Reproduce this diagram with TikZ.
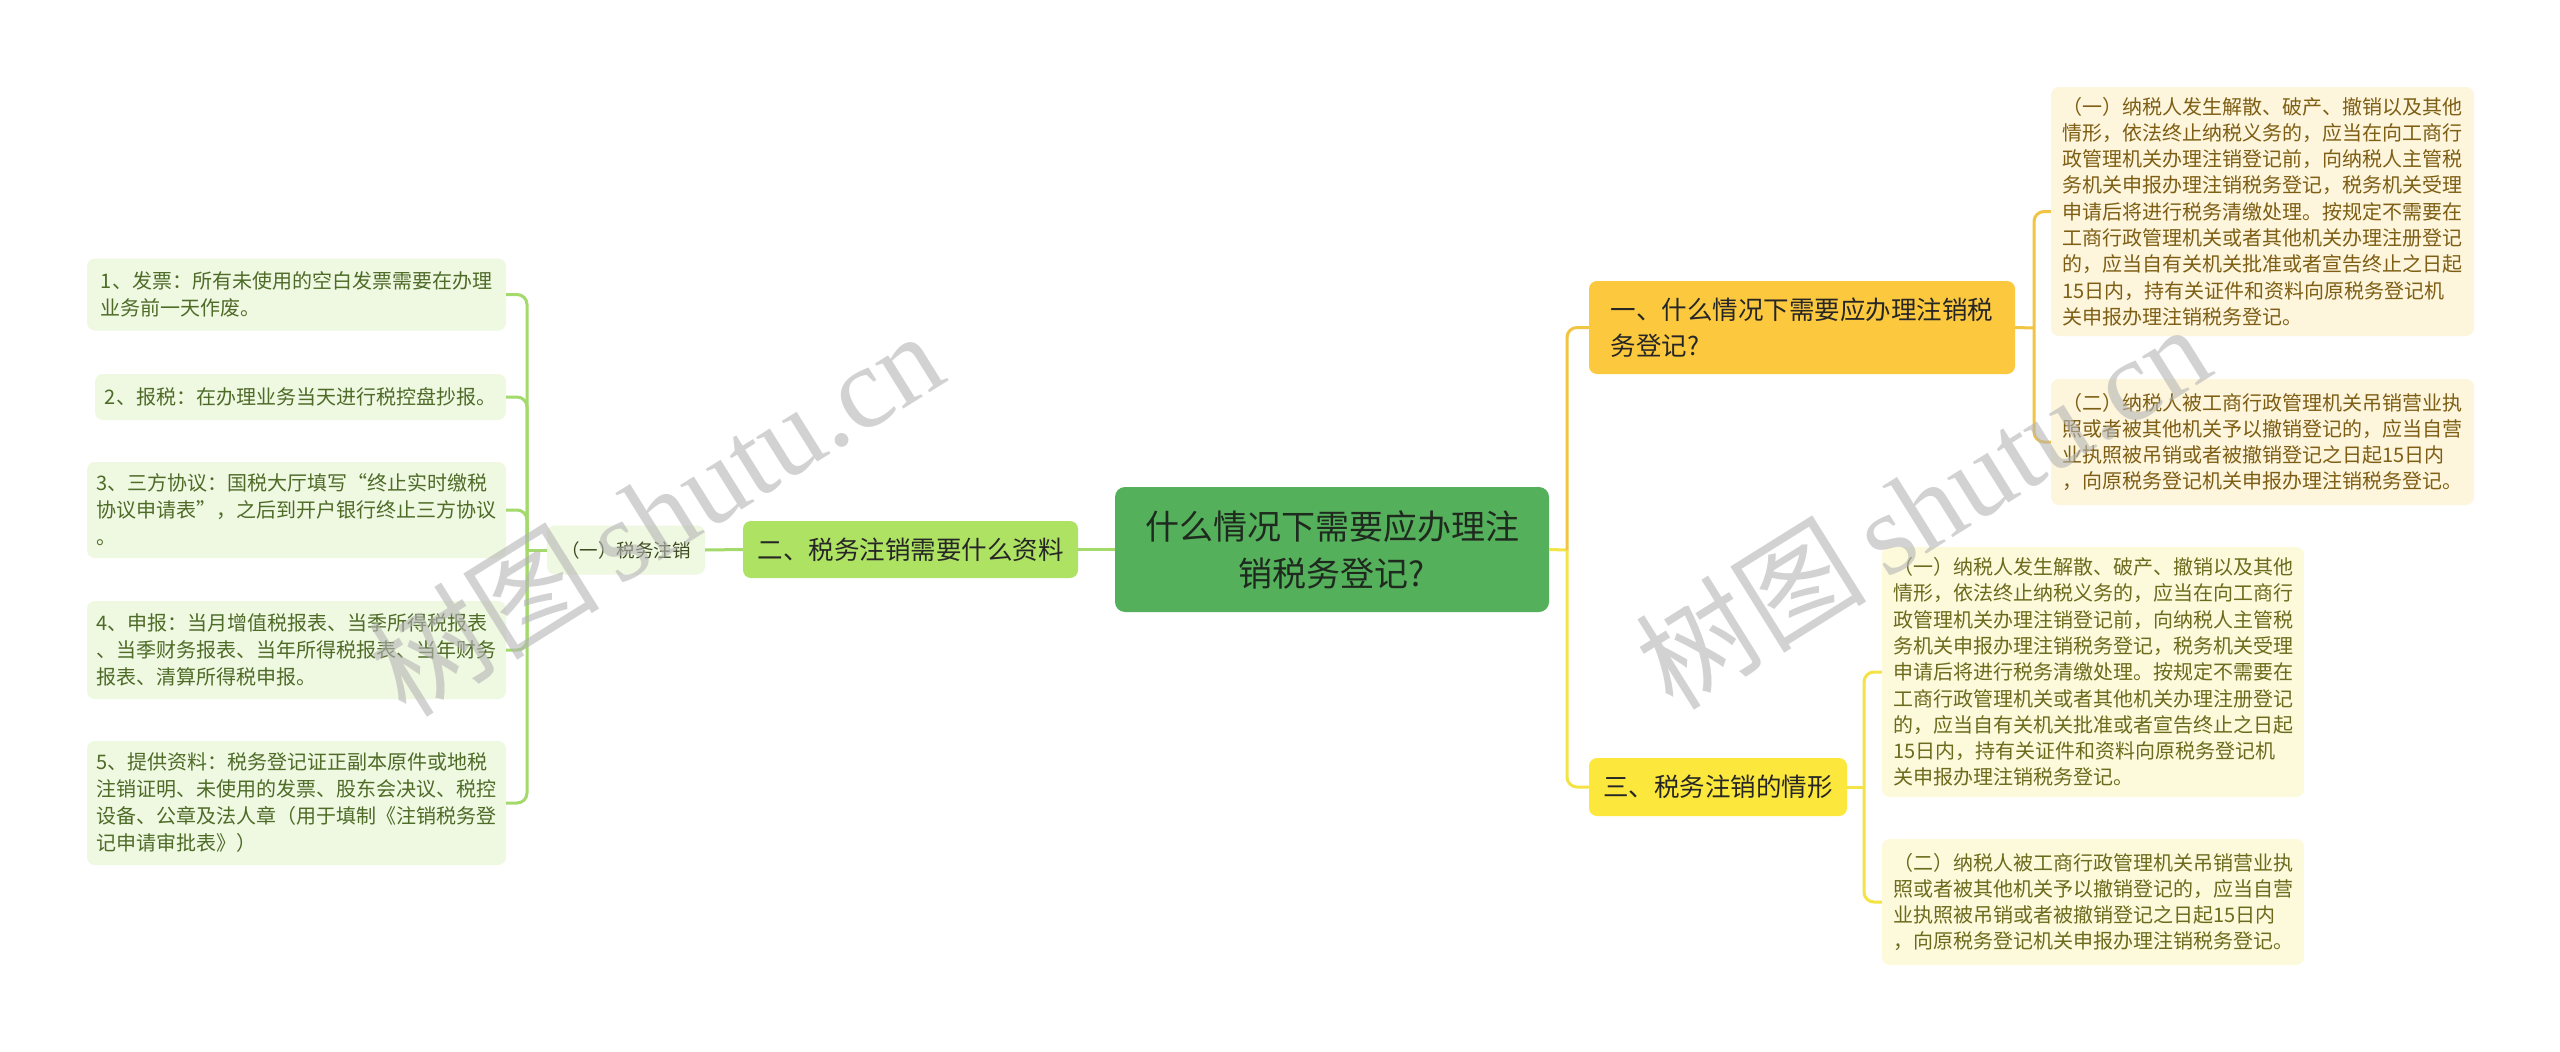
\documentclass[tikz,border=0pt]{standalone}
\usepackage{fontspec}
\setmainfont{Noto Sans CJK SC}
\newfontfamily\wmlatin{Liberation Serif}
\newfontfamily\wmcjk{Noto Sans CJK SC}
\definecolor{rootfill}{HTML}{55B05B}
\definecolor{rootext}{HTML}{1F2A1F}
\definecolor{lbfill}{HTML}{AEE262}
\definecolor{leaffillg}{HTML}{EFF8E1}
\definecolor{leaftextg}{HTML}{4E6B28}
\definecolor{subtext}{HTML}{3D4A1F}
\definecolor{linegreen}{HTML}{A4D96C}
\definecolor{b1fill}{HTML}{FCC83D}
\definecolor{b3fill}{HTML}{FCE83C}
\definecolor{linegold}{HTML}{F1C443}
\definecolor{lineyellow}{HTML}{F3E345}
\definecolor{leaffilla}{HTML}{FDF5DC}
\definecolor{leaftexta}{HTML}{7D5E14}
\definecolor{leaffillb}{HTML}{FDFADC}
\definecolor{leaftextb}{HTML}{6C6A1C}
\definecolor{wmgrey}{HTML}{B4B4B4}
\tikzset{
  boxbase/.style={rounded corners=8pt, inner sep=0pt, align=left, anchor=center},
  rootbox/.style={boxbase, fill=rootfill, text=rootext, align=center, rounded corners=10pt,
    font=\fontsize{34}{47}\selectfont},
  brbox/.style={boxbase, font=\fontsize{25.5}{36}\selectfont, text=black!85},
  leafg/.style={boxbase, fill=leaffillg, text=leaftextg, font=\fontsize{20}{27}\selectfont},
  leafa/.style={boxbase, fill=leaffilla, text=leaftexta, font=\fontsize{20}{26.3}\selectfont},
  leafb/.style={boxbase, fill=leaffillb, text=leaftextb, font=\fontsize{20}{26.3}\selectfont},
  conn/.style={line width=3pt, rounded corners=10pt},
  wmark/.style={text=wmgrey, opacity=0.6, rotate=32, anchor=center}
}
\begin{document}
\begin{tikzpicture}[x=1pt,y=-1pt]
\useasboundingbox (0,0) rectangle (2560,1052);
\fill[white] (0,0) rectangle (2560,1052);

\coordinate (lb) at (527,550);
\coordinate (rb) at (1567,550);
\coordinate (rb1) at (2034,328);
\coordinate (rb3) at (1864,787);

\node[rootbox, minimum width=434pt, minimum height=125pt] (root) at (1332,549.5)
  {什么情况下需要应办理注\\销税务登记?};
\node[brbox, fill=lbfill, minimum width=335pt, minimum height=57pt] (b2) at (910.5,549.5)
  {二、税务注销需要什么资料};
\node[boxbase, fill=leaffillg, text=subtext, font=\fontsize{18.5}{24}\selectfont,
  minimum width=158pt, minimum height=49pt] (sub) at (626,550) {（一）税务注销};

\node[leafg, minimum width=419pt, minimum height=72pt] (L1) at (296.5,294.5)
  {1、发票：所有未使用的空白发票需要在办理\\业务前一天作废。};
\node[leafg, minimum width=411pt, minimum height=46pt] (L2) at (300.5,397)
  {2、报税：在办理业务当天进行税控盘抄报。};
\node[leafg, minimum width=419pt, minimum height=96pt] (L3) at (296.5,510)
  {3、三方协议：国税大厅填写“终止实时缴税\\协议申请表”，之后到开户银行终止三方协议\\。};
\node[leafg, minimum width=419pt, minimum height=98pt] (L4) at (296.5,650)
  {4、申报：当月增值税报表、当季所得税报表\\、当季财务报表、当年所得税报表、当年财务\\报表、清算所得税申报。};
\node[leafg, minimum width=419pt, minimum height=124pt] (L5) at (296.5,803)
  {5、提供资料：税务登记证正副本原件或地税\\注销证明、未使用的发票、股东会决议、税控\\设备、公章及法人章（用于填制《注销税务登\\记申请审批表》）};

\node[brbox, fill=b1fill, minimum width=426pt, minimum height=93pt] (b1) at (1802,327.5)
  {一、什么情况下需要应办理注销税\\务登记?};
\node[brbox, fill=b3fill, minimum width=258pt, minimum height=58pt] (b3) at (1718,787)
  {三、税务注销的情形};

\node[leafa, minimum width=423pt, minimum height=249pt] (R1) at (2262.5,211.5)
  {（一）纳税人发生解散、破产、撤销以及其他\\情形，依法终止纳税义务的，应当在向工商行\\政管理机关办理注销登记前，向纳税人主管税\\务机关申报办理注销税务登记，税务机关受理\\申请后将进行税务清缴处理。按规定不需要在\\工商行政管理机关或者其他机关办理注册登记\\的，应当自有关机关批准或者宣告终止之日起\\15日内，持有关证件和资料向原税务登记机\\关申报办理注销税务登记。};
\node[leafa, minimum width=423pt, minimum height=126pt] (R2) at (2262.5,442)
  {（二）纳税人被工商行政管理机关吊销营业执\\照或者被其他机关予以撤销登记的，应当自营\\业执照被吊销或者被撤销登记之日起15日内\\，向原税务登记机关申报办理注销税务登记。};
\node[leafb, minimum width=422pt, minimum height=250pt] (R3) at (2093,672)
  {（一）纳税人发生解散、破产、撤销以及其他\\情形，依法终止纳税义务的，应当在向工商行\\政管理机关办理注销登记前，向纳税人主管税\\务机关申报办理注销税务登记，税务机关受理\\申请后将进行税务清缴处理。按规定不需要在\\工商行政管理机关或者其他机关办理注册登记\\的，应当自有关机关批准或者宣告终止之日起\\15日内，持有关证件和资料向原税务登记机\\关申报办理注销税务登记。};
\node[leafb, minimum width=422pt, minimum height=126pt] (R4) at (2093,902)
  {（二）纳税人被工商行政管理机关吊销营业执\\照或者被其他机关予以撤销登记的，应当自营\\业执照被吊销或者被撤销登记之日起15日内\\，向原税务登记机关申报办理注销税务登记。};

% left connectors
\draw[conn, linegreen] (root.west) -- (b2.east);
\draw[conn, linegreen] (b2.west) -- (sub.east);
\draw[conn, linegreen] (sub.west) -- (lb);
\foreach \n in {L1,L2,L3,L4,L5} {
  \draw[conn, linegreen] (lb) |- (\n.east);
}
% right connectors
\draw[conn, lineyellow] (root.east) -- (rb);
\draw[conn, linegold] (rb) |- (b1.west);
\draw[conn, lineyellow] (rb) |- (b3.west);
\draw[conn, linegold] (b1.east) -- (rb1);
\draw[conn, linegold] (rb1) |- (R1.west);
\draw[conn, linegold] (rb1) |- (R2.west);
\draw[conn, lineyellow] (b3.east) -- (rb3);
\draw[conn, lineyellow] (rb3) |- (R3.west);
\draw[conn, lineyellow] (rb3) |- (R4.west);

% watermarks
\node[wmark] (wm1) at (655,512) {\wmcjk\fontsize{116}{116}\selectfont 树图\,\wmlatin shutu.cn};
\node[wmark] (wm2) at (1922,505) {\wmcjk\fontsize{116}{116}\selectfont 树图\,\wmlatin shutu.cn};
\end{tikzpicture}
\end{document}
